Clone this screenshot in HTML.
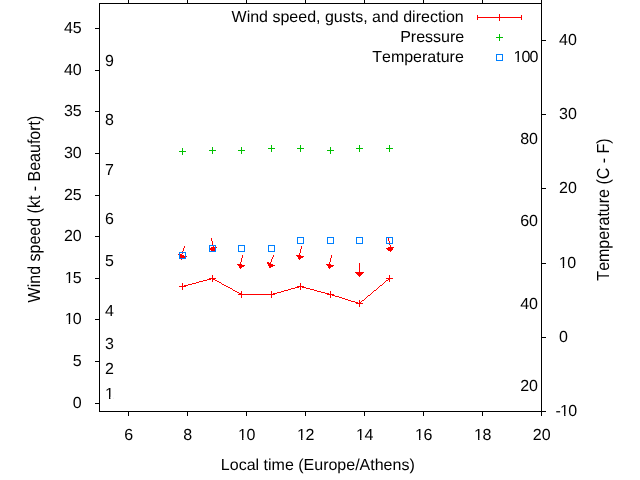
<!DOCTYPE html>
<html><head><meta charset="utf-8"><title>Wind speed, gusts, and direction</title>
<style>
html,body{margin:0;padding:0;background:#fff;overflow:hidden}
svg{display:block}
text{font-family:"Liberation Sans",sans-serif;font-size:16px;fill:#000;text-rendering:geometricPrecision;font-kerning:none}
</style></head><body>
<svg width="640" height="480" viewBox="0 0 640 480">
<rect x="0" y="0" width="640" height="480" fill="#fff"/>
<defs><clipPath id="one"><path d="M-1,-13H10V-2.05H5.4V0.5H4.0V-2.05H-1Z"/></clipPath></defs>
<g shape-rendering="crispEdges"><rect x="99" y="3" width="443" height="1" fill="#000"/><rect x="99" y="411" width="443" height="1" fill="#000"/><rect x="99" y="3" width="1" height="409" fill="#000"/><rect x="541" y="3" width="1" height="409" fill="#000"/><rect x="128" y="411" width="1" height="5" fill="#000"/><rect x="128" y="-1" width="1" height="5" fill="#000"/><rect x="187" y="411" width="1" height="5" fill="#000"/><rect x="187" y="-1" width="1" height="5" fill="#000"/><rect x="246" y="411" width="1" height="5" fill="#000"/><rect x="246" y="-1" width="1" height="5" fill="#000"/><rect x="305" y="411" width="1" height="5" fill="#000"/><rect x="305" y="-1" width="1" height="5" fill="#000"/><rect x="364" y="411" width="1" height="5" fill="#000"/><rect x="364" y="-1" width="1" height="5" fill="#000"/><rect x="423" y="411" width="1" height="5" fill="#000"/><rect x="423" y="-1" width="1" height="5" fill="#000"/><rect x="482" y="411" width="1" height="5" fill="#000"/><rect x="482" y="-1" width="1" height="5" fill="#000"/><rect x="541" y="411" width="1" height="5" fill="#000"/><rect x="541" y="-1" width="1" height="5" fill="#000"/><rect x="95" y="403" width="5" height="1" fill="#000"/><rect x="95" y="361" width="5" height="1" fill="#000"/><rect x="95" y="319" width="5" height="1" fill="#000"/><rect x="95" y="278" width="5" height="1" fill="#000"/><rect x="95" y="236" width="5" height="1" fill="#000"/><rect x="95" y="195" width="5" height="1" fill="#000"/><rect x="95" y="153" width="5" height="1" fill="#000"/><rect x="95" y="111" width="5" height="1" fill="#000"/><rect x="95" y="70" width="5" height="1" fill="#000"/><rect x="95" y="28" width="5" height="1" fill="#000"/><rect x="541" y="411" width="5" height="1" fill="#000"/><rect x="541" y="337" width="5" height="1" fill="#000"/><rect x="541" y="263" width="5" height="1" fill="#000"/><rect x="541" y="188" width="5" height="1" fill="#000"/><rect x="541" y="114" width="5" height="1" fill="#000"/><rect x="541" y="40" width="5" height="1" fill="#000"/></g>
<g shape-rendering="crispEdges"><rect x="211" y="278" width="2" height="1" fill="#ff0000"/><rect x="389" y="278" width="1" height="1" fill="#ff0000"/><rect x="207" y="279" width="4" height="1" fill="#ff0000"/><rect x="213" y="279" width="2" height="1" fill="#ff0000"/><rect x="388" y="279" width="1" height="1" fill="#ff0000"/><rect x="203" y="280" width="4" height="1" fill="#ff0000"/><rect x="215" y="280" width="2" height="1" fill="#ff0000"/><rect x="386" y="280" width="2" height="1" fill="#ff0000"/><rect x="199" y="281" width="4" height="1" fill="#ff0000"/><rect x="217" y="281" width="2" height="1" fill="#ff0000"/><rect x="385" y="281" width="1" height="1" fill="#ff0000"/><rect x="196" y="282" width="3" height="1" fill="#ff0000"/><rect x="219" y="282" width="2" height="1" fill="#ff0000"/><rect x="384" y="282" width="1" height="1" fill="#ff0000"/><rect x="192" y="283" width="4" height="1" fill="#ff0000"/><rect x="221" y="283" width="1" height="1" fill="#ff0000"/><rect x="383" y="283" width="1" height="1" fill="#ff0000"/><rect x="188" y="284" width="4" height="1" fill="#ff0000"/><rect x="222" y="284" width="2" height="1" fill="#ff0000"/><rect x="382" y="284" width="1" height="1" fill="#ff0000"/><rect x="184" y="285" width="4" height="1" fill="#ff0000"/><rect x="224" y="285" width="2" height="1" fill="#ff0000"/><rect x="380" y="285" width="2" height="1" fill="#ff0000"/><rect x="182" y="286" width="2" height="1" fill="#ff0000"/><rect x="226" y="286" width="2" height="1" fill="#ff0000"/><rect x="299" y="286" width="3" height="1" fill="#ff0000"/><rect x="379" y="286" width="1" height="1" fill="#ff0000"/><rect x="228" y="287" width="2" height="1" fill="#ff0000"/><rect x="295" y="287" width="4" height="1" fill="#ff0000"/><rect x="302" y="287" width="4" height="1" fill="#ff0000"/><rect x="378" y="287" width="1" height="1" fill="#ff0000"/><rect x="230" y="288" width="2" height="1" fill="#ff0000"/><rect x="291" y="288" width="4" height="1" fill="#ff0000"/><rect x="306" y="288" width="4" height="1" fill="#ff0000"/><rect x="377" y="288" width="1" height="1" fill="#ff0000"/><rect x="232" y="289" width="1" height="1" fill="#ff0000"/><rect x="288" y="289" width="3" height="1" fill="#ff0000"/><rect x="310" y="289" width="4" height="1" fill="#ff0000"/><rect x="376" y="289" width="1" height="1" fill="#ff0000"/><rect x="233" y="290" width="2" height="1" fill="#ff0000"/><rect x="284" y="290" width="4" height="1" fill="#ff0000"/><rect x="314" y="290" width="3" height="1" fill="#ff0000"/><rect x="374" y="290" width="2" height="1" fill="#ff0000"/><rect x="235" y="291" width="2" height="1" fill="#ff0000"/><rect x="281" y="291" width="3" height="1" fill="#ff0000"/><rect x="317" y="291" width="4" height="1" fill="#ff0000"/><rect x="373" y="291" width="1" height="1" fill="#ff0000"/><rect x="237" y="292" width="2" height="1" fill="#ff0000"/><rect x="277" y="292" width="4" height="1" fill="#ff0000"/><rect x="321" y="292" width="4" height="1" fill="#ff0000"/><rect x="372" y="292" width="1" height="1" fill="#ff0000"/><rect x="239" y="293" width="2" height="1" fill="#ff0000"/><rect x="273" y="293" width="4" height="1" fill="#ff0000"/><rect x="325" y="293" width="4" height="1" fill="#ff0000"/><rect x="371" y="293" width="1" height="1" fill="#ff0000"/><rect x="241" y="294" width="32" height="1" fill="#ff0000"/><rect x="329" y="294" width="3" height="1" fill="#ff0000"/><rect x="370" y="294" width="1" height="1" fill="#ff0000"/><rect x="332" y="295" width="3" height="1" fill="#ff0000"/><rect x="368" y="295" width="2" height="1" fill="#ff0000"/><rect x="335" y="296" width="4" height="1" fill="#ff0000"/><rect x="367" y="296" width="1" height="1" fill="#ff0000"/><rect x="339" y="297" width="3" height="1" fill="#ff0000"/><rect x="366" y="297" width="1" height="1" fill="#ff0000"/><rect x="342" y="298" width="3" height="1" fill="#ff0000"/><rect x="365" y="298" width="1" height="1" fill="#ff0000"/><rect x="345" y="299" width="3" height="1" fill="#ff0000"/><rect x="364" y="299" width="1" height="1" fill="#ff0000"/><rect x="348" y="300" width="3" height="1" fill="#ff0000"/><rect x="362" y="300" width="2" height="1" fill="#ff0000"/><rect x="351" y="301" width="4" height="1" fill="#ff0000"/><rect x="361" y="301" width="1" height="1" fill="#ff0000"/><rect x="355" y="302" width="3" height="1" fill="#ff0000"/><rect x="360" y="302" width="1" height="1" fill="#ff0000"/><rect x="358" y="303" width="2" height="1" fill="#ff0000"/><rect x="179" y="286" width="7" height="1" fill="#ff0000"/><rect x="182" y="283" width="1" height="7" fill="#ff0000"/><rect x="209" y="278" width="7" height="1" fill="#ff0000"/><rect x="212" y="275" width="1" height="7" fill="#ff0000"/><rect x="238" y="294" width="7" height="1" fill="#ff0000"/><rect x="241" y="291" width="1" height="7" fill="#ff0000"/><rect x="268" y="294" width="7" height="1" fill="#ff0000"/><rect x="271" y="291" width="1" height="7" fill="#ff0000"/><rect x="297" y="286" width="7" height="1" fill="#ff0000"/><rect x="300" y="283" width="1" height="7" fill="#ff0000"/><rect x="327" y="294" width="7" height="1" fill="#ff0000"/><rect x="330" y="291" width="1" height="7" fill="#ff0000"/><rect x="356" y="303" width="7" height="1" fill="#ff0000"/><rect x="359" y="300" width="1" height="7" fill="#ff0000"/><rect x="386" y="278" width="7" height="1" fill="#ff0000"/><rect x="389" y="275" width="1" height="7" fill="#ff0000"/><rect x="184" y="246" width="1" height="2" fill="#ff0000"/><rect x="183" y="248" width="1" height="3" fill="#ff0000"/><rect x="182" y="251" width="1" height="3" fill="#ff0000"/><rect x="178" y="254" width="4" height="1" fill="#ff0000"/><rect x="179" y="255" width="5" height="1" fill="#ff0000"/><rect x="179" y="256" width="8" height="1" fill="#ff0000"/><rect x="180" y="257" width="5" height="1" fill="#ff0000"/><rect x="180" y="258" width="4" height="1" fill="#ff0000"/><rect x="181" y="259" width="1" height="1" fill="#ff0000"/><rect x="211" y="238" width="1" height="3" fill="#ff0000"/><rect x="212" y="241" width="1" height="4" fill="#ff0000"/><rect x="213" y="245" width="1" height="2" fill="#ff0000"/><rect x="211" y="247" width="6" height="1" fill="#ff0000"/><rect x="209" y="248" width="7" height="1" fill="#ff0000"/><rect x="210" y="249" width="6" height="1" fill="#ff0000"/><rect x="211" y="250" width="4" height="1" fill="#ff0000"/><rect x="213" y="251" width="1" height="1" fill="#ff0000"/><rect x="242" y="255" width="1" height="3" fill="#ff0000"/><rect x="241" y="258" width="1" height="4" fill="#ff0000"/><rect x="240" y="262" width="1" height="2" fill="#ff0000"/><rect x="237" y="264" width="5" height="1" fill="#ff0000"/><rect x="238" y="265" width="7" height="1" fill="#ff0000"/><rect x="239" y="266" width="5" height="1" fill="#ff0000"/><rect x="239" y="267" width="3" height="1" fill="#ff0000"/><rect x="240" y="268" width="1" height="1" fill="#ff0000"/><rect x="273" y="255" width="1" height="2" fill="#ff0000"/><rect x="272" y="257" width="1" height="2" fill="#ff0000"/><rect x="271" y="259" width="1" height="3" fill="#ff0000"/><rect x="267" y="262" width="2" height="1" fill="#ff0000"/><rect x="270" y="262" width="1" height="1" fill="#ff0000"/><rect x="267" y="263" width="4" height="1" fill="#ff0000"/><rect x="268" y="264" width="5" height="1" fill="#ff0000"/><rect x="268" y="265" width="7" height="1" fill="#ff0000"/><rect x="269" y="266" width="4" height="1" fill="#ff0000"/><rect x="269" y="267" width="2" height="1" fill="#ff0000"/><rect x="301" y="246" width="1" height="3" fill="#ff0000"/><rect x="300" y="249" width="1" height="4" fill="#ff0000"/><rect x="299" y="253" width="1" height="2" fill="#ff0000"/><rect x="296" y="255" width="5" height="1" fill="#ff0000"/><rect x="297" y="256" width="7" height="1" fill="#ff0000"/><rect x="298" y="257" width="5" height="1" fill="#ff0000"/><rect x="298" y="258" width="3" height="1" fill="#ff0000"/><rect x="299" y="259" width="1" height="1" fill="#ff0000"/><rect x="331" y="255" width="1" height="3" fill="#ff0000"/><rect x="330" y="258" width="1" height="4" fill="#ff0000"/><rect x="329" y="262" width="1" height="2" fill="#ff0000"/><rect x="326" y="264" width="5" height="1" fill="#ff0000"/><rect x="327" y="265" width="7" height="1" fill="#ff0000"/><rect x="328" y="266" width="5" height="1" fill="#ff0000"/><rect x="328" y="267" width="3" height="1" fill="#ff0000"/><rect x="329" y="268" width="1" height="1" fill="#ff0000"/><rect x="359" y="263" width="1" height="9" fill="#ff0000"/><rect x="355" y="272" width="9" height="1" fill="#ff0000"/><rect x="356" y="273" width="7" height="1" fill="#ff0000"/><rect x="357" y="274" width="5" height="1" fill="#ff0000"/><rect x="358" y="275" width="3" height="1" fill="#ff0000"/><rect x="359" y="276" width="1" height="1" fill="#ff0000"/><rect x="388" y="238" width="1" height="3" fill="#ff0000"/><rect x="389" y="241" width="1" height="4" fill="#ff0000"/><rect x="390" y="245" width="1" height="2" fill="#ff0000"/><rect x="388" y="247" width="6" height="1" fill="#ff0000"/><rect x="386" y="248" width="7" height="1" fill="#ff0000"/><rect x="387" y="249" width="6" height="1" fill="#ff0000"/><rect x="388" y="250" width="4" height="1" fill="#ff0000"/><rect x="390" y="251" width="1" height="1" fill="#ff0000"/><rect x="179" y="151" width="7" height="1" fill="#00c000"/><rect x="182" y="148" width="1" height="7" fill="#00c000"/><rect x="209" y="150" width="7" height="1" fill="#00c000"/><rect x="212" y="147" width="1" height="7" fill="#00c000"/><rect x="238" y="150" width="7" height="1" fill="#00c000"/><rect x="241" y="147" width="1" height="7" fill="#00c000"/><rect x="268" y="148" width="7" height="1" fill="#00c000"/><rect x="271" y="145" width="1" height="7" fill="#00c000"/><rect x="297" y="148" width="7" height="1" fill="#00c000"/><rect x="300" y="145" width="1" height="7" fill="#00c000"/><rect x="327" y="150" width="7" height="1" fill="#00c000"/><rect x="330" y="147" width="1" height="7" fill="#00c000"/><rect x="356" y="148" width="7" height="1" fill="#00c000"/><rect x="359" y="145" width="1" height="7" fill="#00c000"/><rect x="386" y="148" width="7" height="1" fill="#00c000"/><rect x="389" y="145" width="1" height="7" fill="#00c000"/><rect x="179.5" y="252.5" width="6" height="6" fill="none" stroke="#0080ff" stroke-width="1"/><rect x="209.5" y="245.5" width="6" height="6" fill="none" stroke="#0080ff" stroke-width="1"/><rect x="238.5" y="245.5" width="6" height="6" fill="none" stroke="#0080ff" stroke-width="1"/><rect x="268.5" y="245.5" width="6" height="6" fill="none" stroke="#0080ff" stroke-width="1"/><rect x="297.5" y="237.5" width="6" height="6" fill="none" stroke="#0080ff" stroke-width="1"/><rect x="327.5" y="237.5" width="6" height="6" fill="none" stroke="#0080ff" stroke-width="1"/><rect x="356.5" y="237.5" width="6" height="6" fill="none" stroke="#0080ff" stroke-width="1"/><rect x="386.5" y="237.5" width="6" height="6" fill="none" stroke="#0080ff" stroke-width="1"/><rect x="477" y="17" width="45" height="1" fill="#ff0000"/><rect x="477" y="15" width="1" height="5" fill="#ff0000"/><rect x="521" y="15" width="1" height="5" fill="#ff0000"/><rect x="496" y="17" width="7" height="1" fill="#ff0000"/><rect x="499" y="14" width="1" height="7" fill="#ff0000"/><rect x="496" y="37" width="7" height="1" fill="#00c000"/><rect x="499" y="34" width="1" height="7" fill="#00c000"/><rect x="496.5" y="54.5" width="6" height="6" fill="none" stroke="#0080ff" stroke-width="1"/></g>
<g><text x="72.80" y="408">0</text><text x="72.80" y="366">5</text><text x="64.70 72.80" y="324">10</text><rect x="65.30" y="321.95" width="3.4" height="2.6" fill="#fff"/><rect x="70.10" y="321.95" width="3.1" height="2.6" fill="#fff"/><text x="64.70 72.80" y="283">15</text><rect x="65.30" y="280.95" width="3.4" height="2.6" fill="#fff"/><rect x="70.10" y="280.95" width="3.1" height="2.6" fill="#fff"/><text x="63.90 72.80" y="241">20</text><text x="63.90 72.80" y="200">25</text><text x="63.90 72.80" y="158">30</text><text x="63.90 72.80" y="116">35</text><text x="63.90 72.80" y="75">40</text><text x="63.90 72.80" y="33">45</text><text x="555.50 560.10 568.30" y="416">-10</text><rect x="560.70" y="413.95" width="3.4" height="2.6" fill="#fff"/><rect x="565.50" y="413.95" width="3.1" height="2.6" fill="#fff"/><text x="559.00" y="342">0</text><text x="558.75 567.20" y="268">10</text><rect x="559.35" y="265.95" width="3.4" height="2.6" fill="#fff"/><rect x="564.15" y="265.95" width="3.1" height="2.6" fill="#fff"/><text x="559.00 567.90" y="193">20</text><text x="559.00 567.90" y="119">30</text><text x="559.00 567.90" y="45">40</text><text x="124.30" y="440">6</text><text x="183.30" y="440">8</text><text x="238.05 246.45" y="440">10</text><rect x="238.65" y="437.95" width="3.4" height="2.6" fill="#fff"/><rect x="243.45" y="437.95" width="3.1" height="2.6" fill="#fff"/><text x="297.05 305.45" y="440">12</text><rect x="297.65" y="437.95" width="3.4" height="2.6" fill="#fff"/><rect x="302.45" y="437.95" width="3.1" height="2.6" fill="#fff"/><text x="356.05 364.45" y="440">14</text><rect x="356.65" y="437.95" width="3.4" height="2.6" fill="#fff"/><rect x="361.45" y="437.95" width="3.1" height="2.6" fill="#fff"/><text x="415.05 423.45" y="440">16</text><rect x="415.65" y="437.95" width="3.4" height="2.6" fill="#fff"/><rect x="420.45" y="437.95" width="3.1" height="2.6" fill="#fff"/><text x="474.05 482.45" y="440">18</text><rect x="474.65" y="437.95" width="3.4" height="2.6" fill="#fff"/><rect x="479.45" y="437.95" width="3.1" height="2.6" fill="#fff"/><text x="532.85 541.75" y="440">20</text><text x="105.00" y="399">1</text><rect x="105.60" y="396.95" width="3.4" height="2.6" fill="#fff"/><rect x="110.40" y="396.95" width="3.1" height="2.6" fill="#fff"/><text x="105.00" y="374">2</text><text x="105.00" y="349">3</text><text x="105.00" y="316">4</text><text x="105.00" y="266">5</text><text x="105.00" y="224">6</text><text x="105.00" y="175">7</text><text x="105.00" y="125">8</text><text x="105.00" y="66">9</text><text x="520.20 529.10" y="391">20</text><text x="520.20 529.10" y="309">40</text><text x="520.20 529.10" y="226">60</text><text x="520.20 529.10" y="144">80</text><text x="513.41 521.40 529.60" y="62">100</text><rect x="514.01" y="59.95" width="3.4" height="2.6" fill="#fff"/><rect x="518.81" y="59.95" width="3.1" height="2.6" fill="#fff"/><text x="463.7" y="22" text-anchor="end" >Wind speed, gusts, and direction</text><text x="464.2" y="42" text-anchor="end" >Pressure</text><text x="463.8" y="62" text-anchor="end" >Temperature</text><text x="317.8" y="470" text-anchor="middle" >Local time (Europe/Athens)</text><text transform="translate(40.2,209) rotate(-90) scale(1,1.09)" text-anchor="middle">Wind speed (kt - Beaufort)</text><text transform="translate(609,209.5) rotate(-90) scale(1,1.09)" text-anchor="middle">Temperature (C - F)</text></g>
</svg>
</body></html>
